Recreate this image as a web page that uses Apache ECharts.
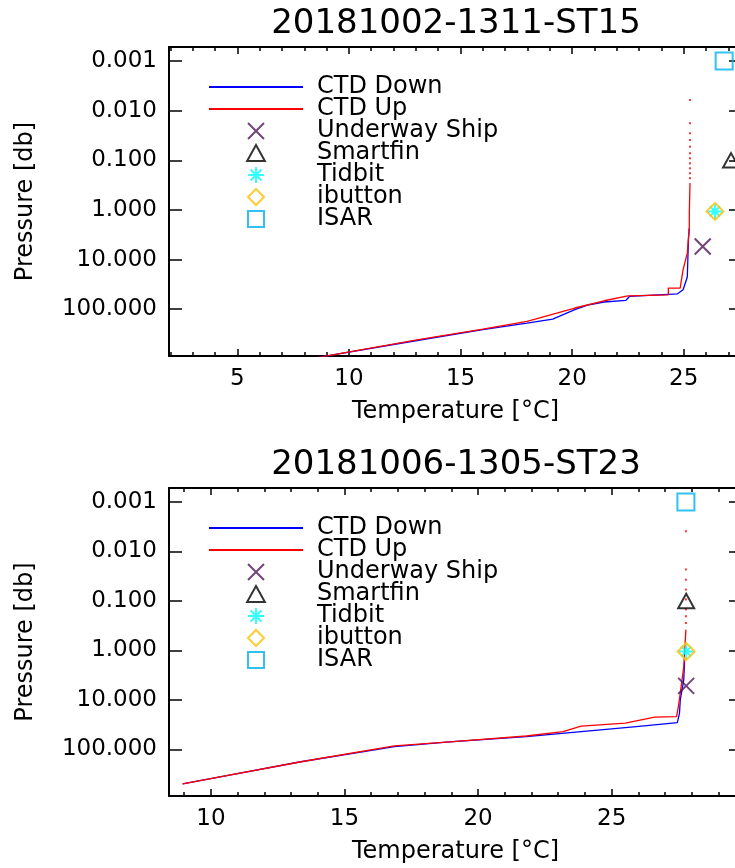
<!DOCTYPE html>
<html>
<head>
<meta charset="utf-8">
<script src="https://cdn.jsdelivr.net/npm/echarts@6/dist/echarts.min.js"></script>
<style>
  html, body { margin: 0; padding: 0; background: #fff; }
  #chart { width: 735px; height: 868px; }
</style>
</head>
<body>
<div id="chart"></div>
<script>
// ---- data (temperature in °C, pressure in db) ----
const titles = ['20181002-1311-ST15', '20181006-1305-ST23'];
const legendNames = ['CTD Down', 'CTD Up', 'Underway Ship', 'Smartfin', 'Tidbit', 'ibutton', 'ISAR'];

// panel 1 : ST15
const topDownT = [8.24, 9.02, 13.05, 16.0, 17.98, 19.13, 20.12, 20.69, 21.43, 22.41, 22.58, 24.72, 24.97, 25.16, 25.21, 25.25];
const topDownP = [1000, 871, 427, 257, 191, 158, 102, 83.2, 71.6, 66.1, 55.0, 49.0, 40.7, 22.4, 3.98, 2.34];
const topUpT = [8.24, 9.02, 13.05, 16.0, 17.98, 20.12, 21.43, 22.5, 24.31, 24.31, 24.84, 24.88, 24.97, 25.16, 25.25, 25.25, 25.28];
const topUpP = [1000, 871, 417, 251, 176, 94.6, 67.6, 53.7, 51.3, 37.6, 37.6, 34.7, 16.0, 7.41, 2.14, 1.16, 0.288];
const topSurfT = 25.28;
const topSurfP = [0.0061, 0.0179, 0.0285, 0.0389, 0.053, 0.072, 0.091, 0.115, 0.145, 0.182, 0.229];
// Underway Ship, Smartfin, Tidbit, ibutton, ISAR
const topSensorT = [25.85, 27.12, 26.4, 26.4, 26.81];
const topSensorP = [5.45, 0.1, 1.07, 1.07, 0.001];

// panel 2 : ST23
const botDownT = [8.94, 11.04, 13.37, 16.87, 18.93, 21.81, 25.92, 27.46, 27.54, 27.57, 27.70, 27.73];
const botDownP = [501, 306, 178, 88.3, 70.8, 55.5, 34.7, 28.8, 18.6, 10.0, 3.93, 1.66];
const botUpT = [8.94, 13.37, 16.87, 19.06, 21.81, 23.18, 23.86, 25.51, 26.61, 27.43, 27.50, 27.57, 27.70, 27.78];
const botUpP = [501, 178, 85.1, 70.0, 53.7, 43.7, 33.9, 29.5, 22.4, 21.9, 13.6, 7.24, 2.14, 0.38];
const botSurfT = 27.78;
const botSurfP = [0.0039, 0.0231, 0.0372, 0.0589, 0.0933, 0.148, 0.204, 0.279];
const botSensorT = [27.79, 27.79, 27.79, 27.79, 27.78];
const botSensorP = [5.2, 0.1, 1.05, 1.05, 0.001];

// axes
const pressureTicks = [0.001, 0.01, 0.1, 1, 10, 100];
const pressureRange = [0.000521, 877];
const topTempRange = [1.94, 27.61];
const botTempRange = [8.43, 29.88];
const topTempTicks = [5, 10, 15, 20, 25];
const botTempTicks = [10, 15, 20, 25];

const FONT = 'DejaVu Sans';
const lg = v => Math.log10(v);
const pairs = (T, P) => T.map((t, i) => [t, lg(P[i])]);

const sensorStyle = [
  { name: 'Underway Ship', symbol: 'path://M0,0L10,10M10,0L0,10', size: 16, color: '#50145a' },
  { name: 'Smartfin', symbol: 'path://M5,0L10,9L0,9Z', size: 16, color: '#000000' },
  { name: 'Tidbit', symbol: 'path://M5,0L5,10M0,5L10,5M1.6,1.6L8.4,8.4M8.4,1.6L1.6,8.4', size: 15, color: '#00ffff' },
  { name: 'ibutton', symbol: 'path://M5,0L10,5L5,10L0,5Z', size: 17, color: '#ffc000' },
  { name: 'ISAR', symbol: 'path://M0,0L10,0L10,10L0,10Z', size: 17, color: '#00b0f0' }
];

const grids = [
  { left: 169, top: 47, width: 573, height: 309, outerBoundsMode: 'none' },
  { left: 169, top: 488, width: 573, height: 308, outerBoundsMode: 'none' }
];

const xAxesFor = (g, range, ticks) => {
  const minor = [];
  for (let v = Math.ceil(range[0]); v <= range[1]; v++) minor.push(v);
  const line = { onZero: false, lineStyle: { color: '#000', width: 2 } };
  const base = { type: 'value', gridIndex: g, min: range[0], max: range[1], splitLine: { show: false } };
  return [
    Object.assign({}, base, {
      position: 'bottom', axisLine: line,
      axisTick: { inside: true, length: 7, customValues: ticks, lineStyle: { color: '#000', width: 1.5 } },
      axisLabel: { customValues: ticks, color: '#000', fontSize: 23, fontFamily: FONT, margin: 12 },
      name: 'Temperature [°C]', nameLocation: 'middle', nameGap: 44,
      nameTextStyle: { color: '#000', fontSize: 24, fontFamily: FONT }
    }),
    Object.assign({}, base, {
      position: 'bottom', axisLine: { show: false, onZero: false },
      axisTick: { inside: true, length: 4, customValues: minor, lineStyle: { color: '#000', width: 1.5 } },
      axisLabel: { show: false }
    }),
    Object.assign({}, base, {
      position: 'top', axisLine: line,
      axisTick: { inside: true, length: 7, customValues: ticks, lineStyle: { color: '#000', width: 1.5 } },
      axisLabel: { show: false }
    }),
    Object.assign({}, base, {
      position: 'top', axisLine: { show: false, onZero: false },
      axisTick: { inside: true, length: 4, customValues: minor, lineStyle: { color: '#000', width: 1.5 } },
      axisLabel: { show: false }
    })
  ];
};

const yAxesFor = g => {
  const ticks = pressureTicks.map(lg);
  const base = {
    type: 'value', gridIndex: g, min: lg(pressureRange[0]), max: lg(pressureRange[1]), inverse: true,
    splitLine: { show: false }, axisLine: { onZero: false, lineStyle: { color: '#000', width: 2 } },
    axisTick: { inside: true, length: 13, customValues: ticks, lineStyle: { color: '#000', width: 1.5 } }
  };
  return [
    Object.assign({}, base, {
      position: 'left',
      axisLabel: {
        customValues: ticks, color: '#000', fontSize: 23, fontFamily: FONT, margin: 12,
        formatter: v => Math.pow(10, v).toFixed(3)
      },
      name: 'Pressure [db]', nameLocation: 'middle', nameGap: 131, nameRotate: 90,
      nameTextStyle: { color: '#000', fontSize: 24, fontFamily: FONT }
    }),
    Object.assign({}, base, { position: 'right', axisLabel: { show: false } })
  ];
};

const seriesFor = (g, downT, downP, upT, upP, surfT, surfP, sensT, sensP) => {
  const xi = g * 4, yi = g * 2;
  const out = [
    {
      type: 'line', name: 'CTD Down', xAxisIndex: xi, yAxisIndex: yi, data: pairs(downT, downP),
      symbol: 'none', lineStyle: { color: '#0000ff', width: 1.3 }, itemStyle: { color: '#0000ff' }, z: 2
    },
    {
      type: 'line', name: 'CTD Up', xAxisIndex: xi, yAxisIndex: yi, data: pairs(upT, upP),
      symbol: 'none', lineStyle: { color: '#ff0000', width: 1.3 }, itemStyle: { color: '#ff0000' }, z: 3
    },
    {
      type: 'scatter', name: 'CTD Up (surface)', xAxisIndex: xi, yAxisIndex: yi,
      data: surfP.map(p => [surfT, lg(p)]), symbol: 'rect', symbolSize: 2,
      itemStyle: { color: '#ff0000' }, z: 3
    }
  ];
  sensorStyle.forEach((s, i) => {
    out.push({
      type: 'scatter', name: s.name, xAxisIndex: xi, yAxisIndex: yi,
      data: [[sensT[i], lg(sensP[i])]], symbol: s.symbol, symbolSize: s.size, clip: false,
      symbolKeepAspect: true,
      itemStyle: { color: 'rgba(0,0,0,0)', borderColor: s.color, borderWidth: 2 }, z: 5
    });
  });
  return out;
};

// legend entries: the two CTD lines show a plain line, no marker
const legendData = legendNames.map(n => n.indexOf('CTD') === 0
  ? { name: n, itemStyle: { opacity: 0 }, lineStyle: { width: 2 } }
  : { name: n });

const chart = echarts.init(document.getElementById('chart'), null, { renderer: 'canvas' });

chart.setOption({
  backgroundColor: '#fff',
  animation: false,
  title: titles.map((t, i) => ({
    text: t, left: 451, top: i === 0 ? 2 : 443, textAlign: 'center',
    textStyle: { color: '#000', fontSize: 34, fontWeight: 'normal', fontFamily: FONT }
  })),
  legend: grids.map(gr => ({
    data: legendData, orient: 'vertical', left: 203, top: gr.top + 23,
    itemWidth: 94, itemHeight: 16, itemGap: -2, selectedMode: false, symbolKeepAspect: true,
    textStyle: { color: '#000', fontSize: 24, fontFamily: FONT, padding: [0, 0, 0, 9] }
  })),
  grid: grids,
  xAxis: [].concat(xAxesFor(0, topTempRange, topTempTicks), xAxesFor(1, botTempRange, botTempTicks)),
  yAxis: [].concat(yAxesFor(0), yAxesFor(1)),
  series: [].concat(
    seriesFor(0, topDownT, topDownP, topUpT, topUpP, topSurfT, topSurfP, topSensorT, topSensorP),
    seriesFor(1, botDownT, botDownP, botUpT, botUpP, botSurfT, botSurfP, botSensorT, botSensorP)
  )
});
</script>
</body>
</html>
